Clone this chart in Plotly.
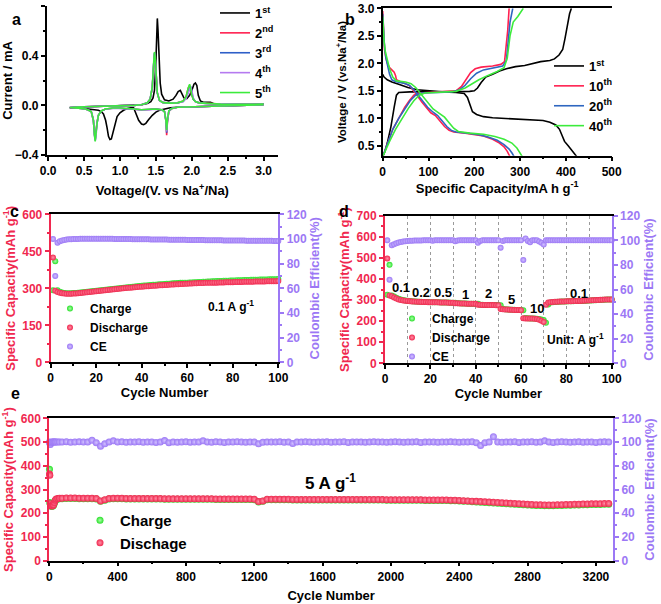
import plotly.graph_objects as go

# ---------------- (a) CV curves ----------------
cv1_cath_v = [3.0, 2.6, 2.2, 2.0, 1.8, 1.7, 1.6, 1.55, 1.5, 1.45, 1.4, 1.36, 1.33, 1.3, 1.26,
              1.22, 1.19, 1.15, 1.1, 1.05, 1.0, 0.96, 0.93, 0.9, 0.88, 0.86, 0.84, 0.82, 0.8, 0.77,
              0.74, 0.7, 0.6, 0.5, 0.4, 0.3]
cv1_cath_i = [0.005, 0.0, -0.005, -0.008, -0.015, -0.02, -0.03, -0.04, -0.055, -0.08, -0.115, -0.145,
              -0.155, -0.15, -0.12, -0.06, -0.02, -0.02, -0.025, -0.04, -0.06, -0.09, -0.15, -0.23,
              -0.27, -0.275, -0.25, -0.18, -0.12, -0.07, -0.05, -0.04, -0.03, -0.025, -0.022, -0.02]
cv1_anod_v = [0.3, 0.4, 0.6, 0.8, 1.0, 1.2, 1.3, 1.38, 1.43, 1.46, 1.48, 1.5, 1.51, 1.52, 1.53,
              1.54, 1.56, 1.58, 1.62, 1.68, 1.74, 1.78, 1.81, 1.84, 1.86, 1.89, 1.93, 1.97, 2.0, 2.03,
              2.05, 2.07, 2.09, 2.12, 2.16, 2.2, 2.23, 2.26, 2.3, 2.5, 2.8, 3.0]
cv1_anod_i = [-0.02, -0.015, -0.01, -0.008, -0.005, 0.0, 0.005, 0.015, 0.03, 0.06, 0.12, 0.35, 0.6,
              0.7, 0.6, 0.4, 0.18, 0.09, 0.045, 0.035, 0.05, 0.08, 0.11, 0.12, 0.09, 0.06, 0.055,
              0.08, 0.12, 0.17, 0.18, 0.16, 0.08, 0.035, 0.025, 0.025, 0.03, 0.025, 0.015, 0.008,
              0.007, 0.01]

cvn_cath_v = [3.0, 2.5, 2.1, 1.9, 1.8, 1.72, 1.68, 1.66, 1.65, 1.64, 1.62, 1.58, 1.5, 1.4, 1.3,
              1.2, 1.1, 1.0, 0.9, 0.8, 0.74, 0.7, 0.68, 0.665, 0.655, 0.645, 0.63, 0.6, 0.55, 0.5,
              0.4, 0.3]
cvn_anod_v = [0.3, 0.5, 0.8, 1.0, 1.2, 1.3, 1.38, 1.42, 1.45, 1.47, 1.48, 1.49, 1.5, 1.52, 1.55,
              1.6, 1.7, 1.8, 1.88, 1.92, 1.95, 1.97, 1.985, 2.0, 2.02, 2.05, 2.1, 2.2, 2.4, 2.7, 3.0]

cv2_cath_i = [0.005, -0.002, -0.008, -0.012, -0.016, -0.027, -0.05, -0.14, -0.24, -0.13, -0.05,
              -0.035, -0.03, -0.033, -0.036, -0.031, -0.026, -0.023, -0.023, -0.03, -0.045, -0.08,
              -0.14, -0.24, -0.27, -0.23, -0.12, -0.05, -0.035, -0.028, -0.022, -0.018]
cv2_anod_i = [-0.018, -0.012, -0.008, -0.005, 0.0, 0.005, 0.02, 0.05, 0.14, 0.33, 0.41, 0.37, 0.24,
              0.1, 0.04, 0.022, 0.018, 0.02, 0.035, 0.07, 0.14, 0.16, 0.13, 0.08, 0.05, 0.03, 0.02,
              0.015, 0.01, 0.008, 0.01]
cv3_cath_i = [0.005, -0.002, -0.008, -0.012, -0.016, -0.026, -0.048, -0.13, -0.22, -0.125, -0.05,
              -0.035, -0.03, -0.033, -0.036, -0.031, -0.026, -0.023, -0.023, -0.03, -0.045, -0.08,
              -0.145, -0.25, -0.28, -0.235, -0.12, -0.05, -0.035, -0.028, -0.022, -0.018]
cv3_anod_i = [-0.018, -0.012, -0.008, -0.005, 0.0, 0.005, 0.02, 0.05, 0.14, 0.34, 0.42, 0.37, 0.25,
              0.1, 0.04, 0.022, 0.018, 0.02, 0.03, 0.06, 0.11, 0.14, 0.145, 0.1, 0.05, 0.03, 0.02,
              0.015, 0.01, 0.008, 0.01]
cv4_cath_i = [0.005, -0.002, -0.008, -0.012, -0.016, -0.026, -0.047, -0.125, -0.21, -0.12, -0.05,
              -0.036, -0.032, -0.035, -0.038, -0.032, -0.027, -0.024, -0.023, -0.03, -0.045, -0.08,
              -0.15, -0.26, -0.285, -0.24, -0.12, -0.05, -0.035, -0.028, -0.022, -0.018]
cv4_anod_i = [-0.018, -0.012, -0.008, -0.005, 0.0, 0.005, 0.02, 0.05, 0.15, 0.34, 0.42, 0.38, 0.25,
              0.1, 0.04, 0.022, 0.018, 0.02, 0.03, 0.055, 0.1, 0.13, 0.15, 0.12, 0.06, 0.03, 0.02,
              0.015, 0.01, 0.008, 0.01]
cv5_cath_i = [0.005, -0.002, -0.008, -0.012, -0.015, -0.025, -0.045, -0.12, -0.2, -0.12, -0.05,
              -0.035, -0.03, -0.032, -0.035, -0.03, -0.025, -0.022, -0.022, -0.03, -0.045, -0.08,
              -0.15, -0.26, -0.29, -0.24, -0.12, -0.05, -0.035, -0.028, -0.022, -0.018]
cv5_anod_i = [-0.018, -0.012, -0.008, -0.005, 0.0, 0.005, 0.02, 0.05, 0.15, 0.35, 0.43, 0.38, 0.25,
              0.1, 0.04, 0.022, 0.018, 0.02, 0.035, 0.07, 0.14, 0.17, 0.13, 0.08, 0.05, 0.03, 0.02,
              0.015, 0.01, 0.008, 0.01]

cv_names = ["1<sup>st</sup>", "2<sup>nd</sup>", "3<sup>rd</sup>", "4<sup>th</sup>", "5<sup>th</sup>"]

# ---------------- (b) charge/discharge profiles ----------------
b1_dis_cap = [0, 3, 10, 20, 35, 55, 75, 100, 130, 160, 178, 185, 190, 196, 205, 220, 240, 270, 300,
              330, 350, 365, 378, 386, 392, 397, 405, 415, 424]
b1_dis_v = [1.8, 1.75, 1.7, 1.66, 1.62, 1.56, 1.52, 1.5, 1.48, 1.47, 1.45, 1.38, 1.25, 1.12, 1.07,
            1.03, 1.01, 1.0, 0.99, 0.975, 0.96, 0.93, 0.88, 0.8, 0.68, 0.58, 0.5, 0.4, 0.3]
b1_chg_cap = [0, 5, 10, 18, 25, 30, 35, 60, 120, 170, 190, 200, 207, 215, 225, 240, 255, 270, 290,
              310, 330, 345, 365, 375, 385, 393, 398, 403, 408, 412]
b1_chg_v = [0.3, 0.4, 0.55, 0.85, 1.2, 1.42, 1.47, 1.48, 1.48, 1.48, 1.49, 1.5, 1.55, 1.65, 1.75,
            1.8, 1.86, 1.9, 1.94, 1.96, 2.0, 2.03, 2.05, 2.08, 2.15, 2.25, 2.45, 2.7, 2.9, 3.0]

b10_dis_cap = [0, 1, 2, 4, 7, 10, 15, 20, 25, 28, 30, 38, 50, 60, 68, 75, 85, 95, 105, 115, 125,
               135, 145, 155, 180, 200, 220, 240, 255, 265, 272, 278]
b10_dis_v = [2.95, 2.7, 2.45, 2.25, 2.1, 2.0, 1.92, 1.87, 1.84, 1.78, 1.7, 1.67, 1.63, 1.58, 1.5,
             1.42, 1.3, 1.2, 1.1, 1.05, 0.95, 0.85, 0.78, 0.75, 0.73, 0.71, 0.68, 0.62, 0.55, 0.48,
             0.4, 0.3]
b10_chg_cap = [0, 5, 12, 22, 35, 48, 58, 68, 80, 110, 140, 160, 172, 182, 192, 202, 215, 240, 258,
               266, 270, 273, 276]
b10_chg_v = [0.3, 0.42, 0.6, 0.8, 1.0, 1.2, 1.32, 1.42, 1.46, 1.47, 1.48, 1.5, 1.58, 1.7, 1.83, 1.9,
             1.93, 1.95, 1.98, 2.03, 2.3, 2.6, 3.0]

b20_dis_cap = [0, 1, 2, 4, 7, 11, 15, 20, 28, 45, 58, 68, 76, 86, 98, 110, 120, 130, 140, 150, 160,
               185, 210, 230, 250, 265, 276, 283, 287]
b20_dis_v = [2.9, 2.7, 2.5, 2.3, 2.1, 1.95, 1.8, 1.7, 1.67, 1.64, 1.6, 1.52, 1.44, 1.32, 1.2, 1.11,
             1.05, 0.95, 0.85, 0.78, 0.75, 0.73, 0.7, 0.66, 0.6, 0.52, 0.44, 0.36, 0.3]
b20_chg_cap = [0, 5, 12, 22, 35, 48, 60, 72, 85, 120, 150, 168, 180, 192, 205, 220, 245, 262, 270,
               274, 278, 284]
b20_chg_v = [0.3, 0.42, 0.6, 0.8, 1.0, 1.18, 1.32, 1.42, 1.46, 1.47, 1.48, 1.52, 1.6, 1.72, 1.82,
             1.88, 1.92, 1.95, 2.05, 2.4, 2.75, 3.0]

b40_dis_cap = [0, 1, 3, 6, 10, 15, 22, 30, 50, 62, 72, 80, 90, 100, 110, 122, 135, 145, 155, 165,
               190, 220, 245, 265, 282, 293, 300, 305]
b40_dis_v = [2.85, 2.6, 2.4, 2.2, 2.05, 1.9, 1.75, 1.68, 1.66, 1.63, 1.56, 1.48, 1.38, 1.27, 1.17,
             1.1, 1.02, 0.92, 0.82, 0.76, 0.73, 0.71, 0.67, 0.62, 0.55, 0.46, 0.38, 0.3]
b40_chg_cap = [0, 6, 15, 28, 42, 56, 68, 80, 92, 130, 160, 180, 195, 210, 230, 250, 265, 272, 278,
               285, 295, 307]
b40_chg_v = [0.3, 0.4, 0.58, 0.8, 1.0, 1.18, 1.32, 1.42, 1.46, 1.47, 1.49, 1.55, 1.63, 1.7, 1.78,
             1.85, 1.92, 2.1, 2.5, 2.75, 2.85, 3.0]

# ---------------- (c) cycling at 0.1 A/g ----------------
cycles_c = list(range(1, 101))
charge_c = [292, 410, 292, 286, 283, 281, 280, 280, 280, 281,
            281, 282, 283, 284, 285, 286, 287, 288, 289, 290,
            291, 292, 293, 294, 295, 296, 297, 298, 299, 300,
            301, 302, 303, 304, 305, 306, 307, 308, 309, 310,
            311, 311, 312, 313, 314, 314, 315, 316, 316, 317,
            318, 318, 319, 320, 320, 321, 322, 322, 323, 323,
            324, 324, 325, 325, 326, 326, 327, 327, 328, 328,
            329, 329, 330, 330, 330, 331, 331, 331, 332, 332,
            332, 333, 333, 333, 334, 334, 334, 335, 335, 335,
            335, 336, 336, 336, 336, 337, 337, 337, 337, 338]
discharge_c = [425, 290, 285, 282, 280, 279, 278, 278, 278, 279,
               279, 280, 281, 282, 283, 284, 285, 286, 287, 288,
               289, 290, 291, 292, 293, 294, 295, 296, 297, 298,
               299, 300, 301, 302, 302, 303, 304, 305, 306, 306,
               307, 308, 308, 309, 310, 310, 311, 312, 312, 313,
               313, 314, 315, 315, 316, 316, 317, 317, 318, 318,
               319, 319, 320, 320, 321, 321, 321, 322, 322, 322,
               323, 323, 323, 324, 324, 324, 325, 325, 325, 325,
               326, 326, 326, 326, 327, 327, 327, 327, 327, 328,
               328, 328, 328, 328, 329, 329, 329, 329, 329, 330]
ce_c = [100, 70, 97, 98.2, 98.8, 99.2, 99.5, 99.7, 99.8, 99.9,
        100, 100, 100.1, 100.1, 100.2, 100.2, 100.2, 100.2, 100.2, 100.2,
        100.2, 100.2, 100.1, 100.1, 100.1, 100.1, 100.1, 100, 100, 100,
        100, 99.9, 99.9, 99.9, 99.9, 99.8, 99.8, 99.8, 99.8, 99.7,
        99.7, 99.7, 99.7, 99.6, 99.6, 99.6, 99.6, 99.5, 99.5, 99.5,
        99.5, 99.4, 99.4, 99.4, 99.4, 99.3, 99.3, 99.3, 99.3, 99.2,
        99.2, 99.2, 99.2, 99.1, 99.1, 99.1, 99.1, 99, 99, 99,
        99, 98.9, 98.9, 98.9, 98.9, 98.8, 98.8, 98.8, 98.8, 98.8,
        98.7, 98.7, 98.7, 98.7, 98.7, 98.6, 98.6, 98.6, 98.6, 98.6,
        98.6, 98.5, 98.5, 98.5, 98.5, 98.5, 98.5, 98.4, 98.4, 98.4]

# ---------------- (d) rate performance ----------------
cycles_d = list(range(1, 101))
charge_d = [325, 467, 321, 317, 311, 306, 302, 300, 298, 297,
            296, 294, 293, 293, 292, 292, 291, 291, 291, 290,
            290, 289, 289, 289, 288, 288, 288, 288, 287, 287,
            287, 285, 285, 284, 284, 284, 283, 283, 283, 283,
            282, 278, 278, 277, 277, 277, 276, 276, 276, 275,
            275, 258, 256, 255, 255, 254, 254, 253, 253, 253,
            252, 215, 214, 213, 213, 212, 211, 210, 208, 205,
            192, 279, 288, 290, 291, 292, 292, 293, 293, 293,
            294, 294, 294, 295, 295, 296, 296, 297, 297, 298,
            298, 299, 299, 300, 300, 301, 301, 302, 302, 303]
discharge_d = [497, 322, 318, 312, 307, 303, 300, 298, 297, 296,
               294, 293, 293, 292, 292, 291, 291, 291, 290, 290,
               289, 289, 289, 288, 288, 288, 288, 287, 287, 287,
               285, 285, 284, 284, 284, 283, 283, 283, 283, 282,
               278, 278, 277, 277, 277, 276, 276, 276, 275, 275,
               258, 256, 255, 255, 254, 254, 253, 253, 253, 252,
               214, 213, 213, 212, 212, 211, 210, 207, 202, 196,
               278, 288, 290, 291, 292, 292, 293, 293, 293, 294,
               294, 294, 295, 295, 296, 296, 297, 297, 298, 298,
               299, 299, 300, 300, 301, 301, 302, 302, 303, 303]
ce_d = [100, 68, 96, 96.8, 97.6, 98.2, 98.6, 99, 99.2, 99.4,
        99.6, 99.7, 99.8, 99.8, 99.9, 99.9, 100, 100, 100, 100,
        99.6, 100, 100, 100, 100, 100, 100, 100, 100, 100,
        99.3, 99.8, 100, 100, 100, 100, 100, 100, 100, 100,
        98, 99.5, 100, 100, 100, 100, 100, 100, 100, 100,
        94, 99.5, 100, 100, 100, 100, 100, 100, 100, 100,
        84, 101.5, 99.5, 98.5, 100, 100, 100, 99, 98, 96.5,
        100, 100, 100, 100, 100, 100, 100, 100, 100, 100,
        100, 100, 100, 100, 100, 100, 100, 100, 100, 100,
        100, 100, 100, 100, 100, 100, 100, 100, 100, 100]
rate_labels = ["0.1", "0.2", "0.5", "1", "2", "5", "10", "0.1"]
rate_label_x = [7, 16, 25.5, 35.5, 45.5, 56, 67, 85.5]
rate_label_y = [360, 337, 337, 328, 330, 303, 261, 330]

# ---------------- (e) long cycling at 5 A/g ----------------
cycles_e = [1, 3, 6, 10, 15, 20, 25, 30, 35, 40, 50, 60] + list(range(75, 3276, 25))
charge_e = [385, 245, 238, 230, 229, 230, 234, 243, 253, 258, 260, 261,
            261, 262, 262, 262, 261, 261, 261, 261, 260, 250,
            255, 260, 261, 261, 261, 260, 260, 260, 260, 260,
            260, 260, 260, 260, 259, 259, 259, 259, 259, 259,
            259, 259, 259, 259, 259, 259, 258, 258, 258, 258,
            258, 258, 258, 258, 258, 257, 247, 250, 257, 257,
            257, 257, 257, 257, 256, 256, 256, 256, 256, 256,
            256, 256, 256, 256, 256, 256, 256, 256, 256, 256,
            256, 256, 256, 256, 256, 256, 255, 255, 255, 255,
            255, 255, 255, 255, 255, 254, 254, 254, 254, 254,
            254, 253, 253, 252, 251, 250, 248, 247, 246, 245,
            244, 243, 242, 241, 240, 239, 238, 237, 236, 235,
            234, 233, 233, 232, 232, 232, 233, 233, 234, 234,
            235, 235, 236, 236, 237, 237, 237, 238, 238]
discharge_e = [365, 360, 240, 232, 230, 232, 236, 245, 255, 260, 262, 263,
               263, 264, 264, 264, 263, 263, 263, 263, 262, 252,
               257, 262, 263, 263, 263, 262, 262, 262, 262, 262,
               262, 262, 262, 262, 261, 261, 261, 261, 261, 261,
               261, 261, 261, 261, 261, 261, 260, 260, 260, 260,
               260, 260, 260, 260, 260, 259, 249, 252, 259, 259,
               259, 259, 259, 259, 258, 258, 258, 258, 258, 258,
               258, 258, 258, 258, 258, 258, 258, 258, 258, 258,
               258, 258, 258, 258, 258, 258, 257, 257, 257, 257,
               257, 257, 257, 257, 257, 256, 256, 256, 256, 256,
               256, 255, 255, 254, 253, 252, 251, 250, 249, 248,
               247, 246, 245, 244, 243, 242, 241, 240, 239, 238,
               237, 236, 236, 235, 235, 235, 236, 236, 237, 237,
               238, 238, 239, 239, 240, 240, 240, 241, 241]
ce_e = [100, 99, 98, 99.5, 100, 100, 100, 100, 100, 100, 100, 100,
        100, 100.3, 99.8, 100, 100.2, 100, 100, 101.5, 99.5, 96.5,
        98.5, 100, 101, 100, 100.2, 99.8, 100, 100, 100.3, 99.8,
        100, 100, 99.7, 100, 101.2, 99.5, 100, 99.8, 100, 100.2,
        99.9, 100, 100, 101, 100, 99.8, 100.2, 100, 99.7, 100,
        100, 100.3, 100, 99.8, 100, 100, 98.5, 99.8, 100, 100,
        100, 100.2, 99.8, 100, 98.8, 100, 100, 100.3, 100, 99.8,
        100, 100, 100.2, 99.8, 100, 100, 100.3, 99.7, 100, 100,
        100, 99.8, 100, 100.2, 100, 100, 99.8, 100, 100.3, 100,
        99.8, 100, 100, 100.2, 99.7, 100, 100, 100, 99.8, 100,
        100, 100.2, 100, 99.8, 100, 100, 100.2, 99.5, 97, 99.5,
        100, 104.5, 100, 99.8, 100, 100, 100.3, 99.7, 100, 100,
        100.2, 99.8, 100, 101, 100, 99.7, 100, 100.2, 100, 99.8,
        100, 100.2, 99.8, 100, 100, 99.7, 100, 100.2, 100]

# ---------------- styling ----------------
W, H = 661, 604
FONT = "Liberation Sans, Arial, sans-serif"
RED = "#F0284F"
PURPLE = "#9C78F5"
GREEN = "#2BE02B"
RED_HI = "#FF8FA6"
PURPLE_HI = "#D2C2FF"
GREEN_HI = "#A8FFA8"
CV_COLORS = ["#000000", "#FF2050", "#2F5FC8", "#B57AF0", "#3CEB3C"]
B_COLORS = ["#000000", "#FF2050", "#2F66C0", "#3CEB3C"]


def px_x(a, b):
    return [a / W, b / W]


def px_y(top, bottom):
    return [1 - bottom / H, 1 - top / H]


def axis(color="black", tsize=13, **kw):
    d = dict(showline=True, linewidth=1.5, linecolor=color, ticks="outside", ticklen=4,
             tickwidth=1.5, tickcolor=color, showgrid=False, zeroline=False, automargin=False,
             tickfont=dict(size=12, color=color, family=FONT, weight="bold"),
             title=dict(font=dict(size=tsize, color=color, family=FONT, weight="bold")))
    for k, v in kw.items():
        if k == "title":
            d["title"].update(v)
        else:
            d[k] = v
    return d


fig = go.Figure()

# (a)
cv_i = [(cv1_cath_i, cv1_anod_i), (cv2_cath_i, cv2_anod_i), (cv3_cath_i, cv3_anod_i),
        (cv4_cath_i, cv4_anod_i), (cv5_cath_i, cv5_anod_i)]
for k in range(5):
    if k == 0:
        xv = cv1_cath_v + cv1_anod_v
    else:
        xv = cvn_cath_v + cvn_anod_v
    fig.add_trace(go.Scatter(x=xv, y=cv_i[k][0] + cv_i[k][1], mode="lines",
                             line=dict(color=CV_COLORS[k], width=1.6),
                             name=cv_names[k], xaxis="x", yaxis="y", legend="legend"))

# (b)
b_sets = [(b1_dis_cap, b1_dis_v, b1_chg_cap, b1_chg_v, "1<sup>st</sup>"),
          (b10_dis_cap, b10_dis_v, b10_chg_cap, b10_chg_v, "10<sup>th</sup>"),
          (b20_dis_cap, b20_dis_v, b20_chg_cap, b20_chg_v, "20<sup>th</sup>"),
          (b40_dis_cap, b40_dis_v, b40_chg_cap, b40_chg_v, "40<sup>th</sup>")]
for k, (dc, dv, cc, cvv, nm) in enumerate(b_sets):
    fig.add_trace(go.Scatter(x=dc, y=dv, mode="lines", line=dict(color=B_COLORS[k], width=1.6),
                             name=nm, xaxis="x2", yaxis="y2", legend="legend2",
                             legendgroup=nm))
    fig.add_trace(go.Scatter(x=cc, y=cvv, mode="lines", line=dict(color=B_COLORS[k], width=1.6),
                             name=nm, xaxis="x2", yaxis="y2", legend="legend2",
                             legendgroup=nm, showlegend=False))


def mk(color, center, size):
    return dict(size=size, color=color, gradient=dict(type="radial", color=center))


# (c)
fig.add_trace(go.Scatter(x=cycles_c, y=charge_c, mode="markers", marker=mk(GREEN, GREEN_HI, 6),
                         name="Charge", xaxis="x3", yaxis="y3", legend="legend3", cliponaxis=False))
fig.add_trace(go.Scatter(x=cycles_c, y=discharge_c, mode="markers", marker=mk(RED, RED_HI, 6),
                         name="Discharge", xaxis="x3", yaxis="y3", legend="legend3", cliponaxis=False))
fig.add_trace(go.Scatter(x=cycles_c, y=ce_c, mode="markers", marker=mk(PURPLE, PURPLE_HI, 6),
                         name="CE", xaxis="x3", yaxis="y4", legend="legend3", cliponaxis=False))

# (d)
fig.add_trace(go.Scatter(x=cycles_d, y=charge_d, mode="markers", marker=mk(GREEN, GREEN_HI, 6),
                         name="Charge", xaxis="x4", yaxis="y5", legend="legend4", cliponaxis=False))
fig.add_trace(go.Scatter(x=cycles_d, y=discharge_d, mode="markers", marker=mk(RED, RED_HI, 6),
                         name="Discharge", xaxis="x4", yaxis="y5", legend="legend4", cliponaxis=False))
fig.add_trace(go.Scatter(x=cycles_d, y=ce_d, mode="markers", marker=mk(PURPLE, PURPLE_HI, 6),
                         name="CE", xaxis="x4", yaxis="y6", legend="legend4", cliponaxis=False))

# (e)
fig.add_trace(go.Scatter(x=cycles_e, y=charge_e, mode="markers", marker=mk(GREEN, GREEN_HI, 7),
                         name="Charge", xaxis="x5", yaxis="y7", legend="legend5", cliponaxis=False))
fig.add_trace(go.Scatter(x=cycles_e, y=discharge_e, mode="markers", marker=mk(RED, RED_HI, 7),
                         name="Dischage", xaxis="x5", yaxis="y7", legend="legend5", cliponaxis=False))
fig.add_trace(go.Scatter(x=cycles_e, y=ce_e, mode="markers", marker=mk(PURPLE, PURPLE_HI, 7),
                         name="CE", xaxis="x5", yaxis="y8", showlegend=False, cliponaxis=False))

annotations = []
for t, x, y in [("a", 10, 9), ("b", 350, 9), ("c", 8, 201), ("d", 344, 201), ("e", 9, 404)]:
    annotations.append(dict(text=t, x=x / W, y=1 - y / H, xref="paper", yref="paper",
                            showarrow=False, font=dict(size=16, family=FONT, weight="bold")))
annotations.append(dict(text="0.1 A g<sup>-1</sup>", x=79, y=229, xref="x3", yref="y3",
                        showarrow=False, font=dict(size=12, family=FONT, weight="bold")))
for t, x, y in zip(rate_labels, rate_label_x, rate_label_y):
    annotations.append(dict(text=t, x=x, y=y, xref="x4", yref="y5", showarrow=False,
                            font=dict(size=13, family=FONT, weight="bold")))
annotations.append(dict(text="Unit: A g<sup>-1</sup>", x=84, y=114, xref="x4", yref="y5",
                        showarrow=False, font=dict(size=12, family=FONT, weight="bold")))
annotations.append(dict(text="5 A g<sup>-1</sup>", x=1646, y=332, xref="x5", yref="y7",
                        showarrow=False, font=dict(size=17, family=FONT, weight="bold")))

leg_common = dict(bgcolor="rgba(0,0,0,0)", borderwidth=0, xanchor="left", yanchor="top",
                  tracegroupgap=0)

fig.update_layout(
    width=W, height=H, margin=dict(l=0, r=0, t=0, b=0, autoexpand=False),
    paper_bgcolor="white", plot_bgcolor="white",
    font=dict(family=FONT, size=12, color="black", weight="bold"),
    annotations=annotations,
    # (a)
    xaxis=axis(domain=px_x(46.7, 278), anchor="y", range=[-0.02, 3.2], dtick=0.5, tick0=0,
               tickformat=".1f", minor=dict(ticks="outside", ticklen=2, dtick=0.25),
               title=dict(text="Voltage/(V. vs Na<sup>+</sup>/Na)", standoff=9)),
    yaxis=axis(domain=px_y(6, 155), anchor="x", range=[-0.4, 0.8], dtick=0.4, tick0=0,
               tickformat=".1f", minor=dict(ticks="outside", ticklen=2, dtick=0.2),
               title=dict(text="Current / mA", standoff=1)),
    # (b)
    xaxis2=axis(domain=px_x(382.7, 611.7), anchor="y2", range=[0, 500], dtick=100, mirror=True,
                minor=dict(ticks="outside", ticklen=2, dtick=50),
                title=dict(text="Specific Capacity/mA h g<sup>-1</sup>", standoff=6)),
    yaxis2=axis(domain=px_y(8.3, 155.7), anchor="x2", range=[0.32, 3.0], dtick=0.5, tick0=0.5,
                tickformat=".1f", tsize=11.5,
                minor=dict(ticks="outside", ticklen=2, dtick=0.25, tick0=0.5),
                title=dict(text="Voltage / V (vs.Na<sup>+</sup>/Na)", standoff=9)),
    # (c)
    xaxis3=axis(domain=px_x(50.7, 278.3), anchor="y3", range=[0, 100], dtick=20, mirror=True,
                minor=dict(ticks="outside", ticklen=2, dtick=10),
                title=dict(text="Cycle Number", standoff=0)),
    yaxis3=axis(color=RED, domain=px_y(214.3, 362.3), anchor="x3", range=[0, 600], dtick=150,
                linewidth=2, minor=dict(ticks="outside", ticklen=2, dtick=75),
                title=dict(text="Specific Capacity(mAh g<sup>-1</sup>)", standoff=4)),
    yaxis4=axis(color=PURPLE, anchor="x3", overlaying="y3", side="right", range=[0, 120], dtick=20,
                linewidth=2, minor=dict(ticks="outside", ticklen=2, dtick=10),
                title=dict(text="Coulombic Efficient(%)", standoff=4)),
    # (d)
    xaxis4=axis(domain=px_x(385, 611.7), anchor="y5", range=[0, 100], dtick=20, mirror=True,
                showgrid=True, gridcolor="#9a9a9a", griddash="dot", gridwidth=1,
                minor=dict(ticks="outside", ticklen=2, dtick=10, showgrid=True,
                           gridcolor="#9a9a9a", griddash="dot", gridwidth=1),
                title=dict(text="Cycle Number", standoff=0)),
    yaxis5=axis(color=RED, domain=px_y(215.7, 363.3), anchor="x4", range=[0, 700], dtick=100,
                linewidth=2, minor=dict(ticks="outside", ticklen=2, dtick=50),
                title=dict(text="Specific Capacity(mAh g<sup>-1</sup>)", standoff=4)),
    yaxis6=axis(color=PURPLE, anchor="x4", overlaying="y5", side="right", range=[0, 120], dtick=20,
                linewidth=2, minor=dict(ticks="outside", ticklen=2, dtick=10),
                title=dict(text="Coulombic Efficient(%)", standoff=4)),
    # (e)
    xaxis5=axis(domain=px_x(49.3, 613), anchor="y7", range=[0, 3300], dtick=400, mirror=True,
                minor=dict(ticks="outside", ticklen=2, dtick=200),
                title=dict(text="Cycle Number", standoff=8)),
    yaxis7=axis(color=RED, domain=px_y(418.3, 560.7), anchor="x5", range=[0, 600], dtick=100,
                linewidth=2, minor=dict(ticks="outside", ticklen=2, dtick=50),
                title=dict(text="Specific Capacity(mAh g<sup>-1</sup>)", standoff=4)),
    yaxis8=axis(color=PURPLE, anchor="x5", overlaying="y7", side="right", range=[0, 120], dtick=20,
                linewidth=2, minor=dict(ticks="outside", ticklen=2, dtick=10),
                title=dict(text="Coulombic Efficient(%)", standoff=4)),
    legend=dict(leg_common, x=215 / W, y=1 + 2 / H, font=dict(size=13, family=FONT, weight="bold")),
    legend2=dict(leg_common, x=549 / W, y=1 - 51 / H, font=dict(size=13, family=FONT, weight="bold")),
    legend3=dict(leg_common, x=50 / W, y=1 - 294 / H, font=dict(size=12, family=FONT, weight="bold")),
    legend4=dict(leg_common, x=392 / W, y=1 - 304 / H, font=dict(size=12, family=FONT, weight="bold")),
    legend5=dict(leg_common, x=80 / W, y=1 - 504 / H, font=dict(size=15, family=FONT, weight="bold")),
)

fig.write_html("out.html", config={"displayModeBar": False},
               post_script="document.body.style.margin='0px';")
